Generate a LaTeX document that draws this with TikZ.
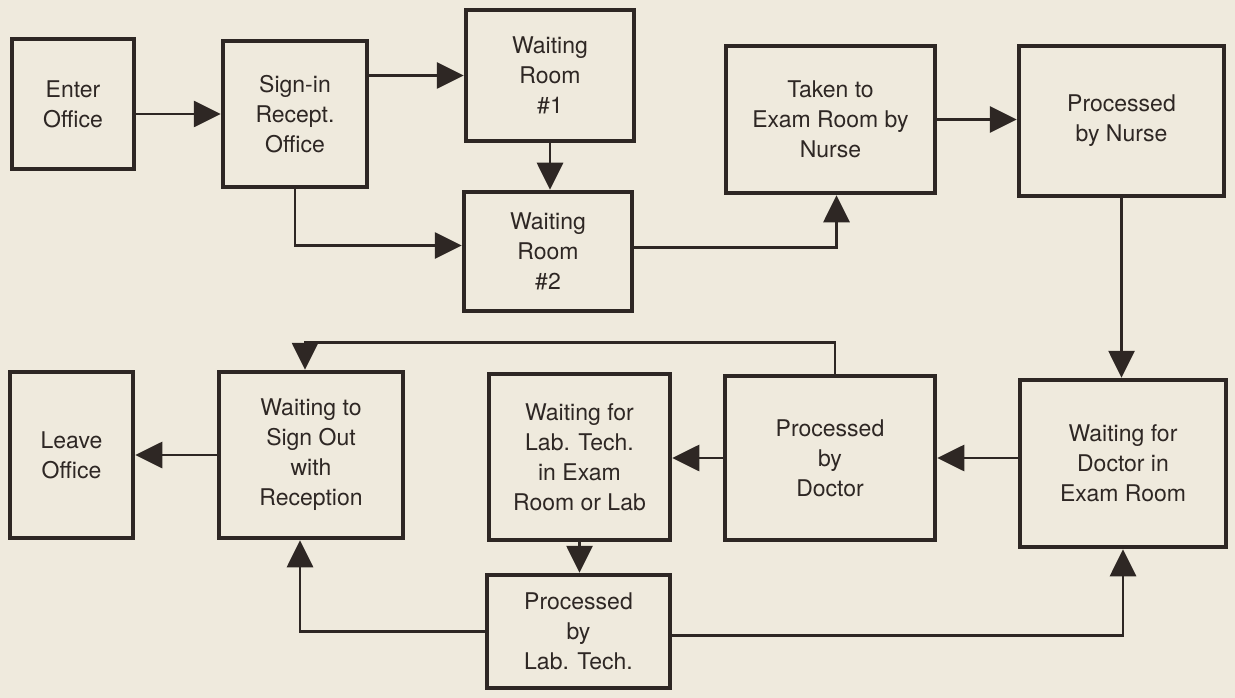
\documentclass[tikz,border=0pt]{standalone}
\usepackage{fontspec}
\setmainfont{TeX Gyre Heros}
\usetikzlibrary{positioning, arrows.meta}
\definecolor{paper}{RGB}{239,234,221}
\definecolor{ink}{RGB}{46,39,36}
\tikzset{
	stage/.style={draw=ink, rectangle, line width=4.5pt, inner sep=2pt, align=center, text=ink, font=\fontsize{23}{30}\selectfont},
	flow/.style={draw=ink, line width=2.8pt, -{Triangle[length=27pt, width=26pt]}},
}

\begin{document}
\begin{tikzpicture}[x=1pt, y=-1pt]
		\fill[paper] (0,0) rectangle (1235,698);
		\useasboundingbox (0,0) rectangle (1235,698);
		
		% way in
		\node (enter) [stage, minimum width=122pt, minimum height=130pt] at (73,104) {Enter\\Office};
		\node (signin) [stage, minimum width=144pt, minimum height=146pt] at (295,114) {Sign-in\\Recept.\\Office};
		\node (wr1) [stage, minimum width=168pt, minimum height=131pt] at (550,75.5) {Waiting\\Room\\\#1};
		\node (wr2) [stage, minimum width=168pt, minimum height=119pt] at (548,251.5) {Waiting\\Room\\\#2};
		\node (taken) [stage, minimum width=209pt, minimum height=147pt] at (830.5,119.5) {Taken to\\Exam Room by\\Nurse};
		\node (pnurse) [stage, minimum width=205pt, minimum height=150pt] at (1121.5,121) {Processed\\by Nurse};
		
		% way out
		\node (wdoc) [stage, minimum width=206pt, minimum height=167pt] at (1123,463.5) {Waiting for\\Doctor in\\Exam Room};
		\node (pdoc) [stage, minimum width=210pt, minimum height=164pt] at (830,458) {Processed\\by\\Doctor};
		\node (wlab) [stage, minimum width=181pt, minimum height=166pt] at (579.5,457) {Waiting for\\Lab. Tech.\\in Exam\\Room or Lab};
		\node (plab) [stage, minimum width=183pt, minimum height=113pt] at (578.5,631.5) {Processed\\by\\Lab. Tech.};
		\node (wsign) [stage, minimum width=184pt, minimum height=166pt] at (311,455) {Waiting to\\Sign Out\\with\\Reception};
		\node (leave) [stage, minimum width=123pt, minimum height=166pt] at (71.5,455) {Leave\\Office};
		
		\begin{scope}[flow]
			\draw (enter.east |- signin.west) -- (signin.west);
			\draw (signin.east |- wr1.west) -- (wr1.west);
			\draw (signin.south) |- ([yshift=6pt]wr2.west);
			\draw (wr1.south) -- (wr1.south |- wr2.north);
			\draw ([yshift=4pt]wr2.east) -| ([xshift=6pt]taken.south);
			\draw (taken.east) -- (pnurse.west |- taken.east);
			\draw (pnurse.south) -- (pnurse.south |- wdoc.north);
			\draw (wdoc.west |- pdoc.east) -- (pdoc.east);
			\draw (pdoc.west) -- (wlab.east |- pdoc.west);
			\draw ([xshift=5pt]pdoc.north) -- ++(0,-31) -| ([xshift=-6pt]wsign.north);
			\draw (wlab.south) -- (wlab.south |- plab.north);
			\draw (plab.west) -| ([xshift=-11pt]wsign.south);
			\draw ([yshift=-4pt]plab.east) -| (wdoc.south);
			\draw (wsign.west) -- (leave.east |- wsign.west);
		\end{scope}
	\end{tikzpicture}
\end{document}
